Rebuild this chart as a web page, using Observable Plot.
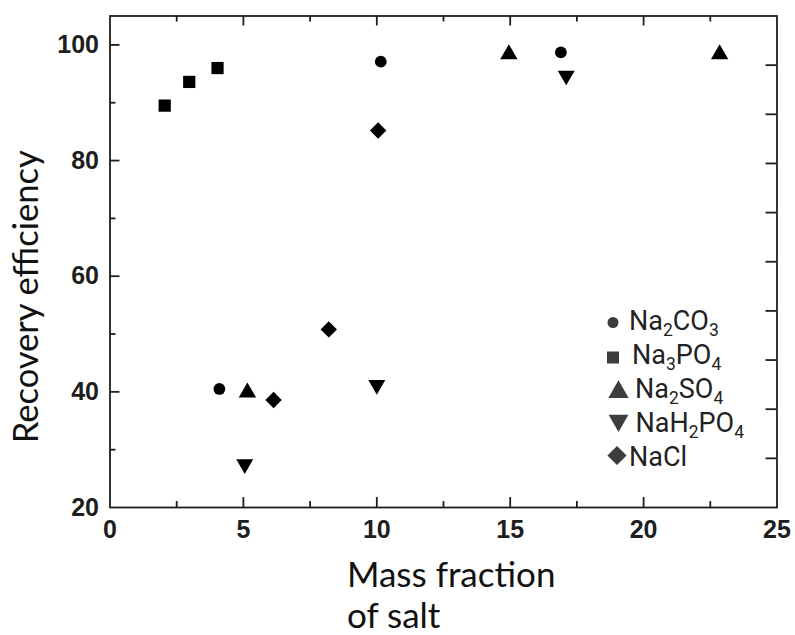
<!DOCTYPE html>
<html><head><meta charset="utf-8">
<script src="https://cdn.jsdelivr.net/npm/d3@7"></script>
<script src="https://cdn.jsdelivr.net/npm/@observablehq/plot@0.6"></script>
<style>body{margin:0;background:#fff} #chart{width:795px;height:635px}</style>
</head><body><div id="chart"></div>
<script>
// ---- data ----
const na2co3X = [4.1, 10.15, 16.9];
const na2co3Y = [40.5, 97.1, 98.7];
const na3po4X = [2.05, 2.97, 4.03];
const na3po4Y = [89.5, 93.6, 96.0];
const na2so4X = [5.15, 14.95, 22.85];
const na2so4Y = [39.9, 98.4, 98.4];
const nah2po4X = [5.05, 10.0, 17.1];
const nah2po4Y = [27.5, 41.2, 94.7];
const naclX = [6.13, 8.2, 10.05];
const naclY = [38.6, 50.8, 85.2];

const xTickLabels = [0, 5, 10, 15, 20, 25];
const xMajorTicks = [5, 10, 15, 20];
const xMinorTicks = [2.5, 7.5, 12.5, 17.5, 22.5];
const yTickLabels = [20, 40, 60, 80, 100];
const yMajorTicks = [40, 60, 80, 100];
const yMinorTicks = [30, 50, 70, 90];
const rightTicks = [28.5, 37, 45.5, 54, 62.5, 71, 79.5, 88, 96.5];

const xTitle = "Mass fraction\nof salt";
const yTitle = "Recovery efficiency";

const legendEntries = [
  [["Na",0],["2",1],["CO",0],["3",1]],
  [["Na",0],["3",1],["PO",0],["4",1]],
  [["Na",0],["2",1],["SO",0],["4",1]],
  [["NaH",0],["2",1],["PO",0],["4",1]],
  [["NaCl",0]]
];

// ---- symbols ----
const triangleDown = {
  draw(context, size) {
    const y = Math.sqrt(size / (Math.sqrt(3) * 3));
    context.moveTo(0, 2 * y);
    context.lineTo(Math.sqrt(3) * y, -y);
    context.lineTo(-Math.sqrt(3) * y, -y);
    context.closePath();
  }
};

const zip = (xs, ys) => xs.map((x, i) => ({x, y: ys[i]}));

const W = 795, H = 635, mL = 109.5, mR = 18.5, mT = 15.5, mB = 128;
const frameW = W - mL - mR, frameH = H - mT - mB;
const ink = "#1e1e1e";
const tickW = 1.8;

const plot = Plot.plot({
  width: W, height: H,
  marginLeft: mL, marginRight: mR, marginTop: mT, marginBottom: mB,
  x: {domain: [0, 25]},
  y: {domain: [20, 105]},
  style: {fontFamily: "'Liberation Sans', Arial, sans-serif", background: "#fff", color: ink},
  marks: [
    Plot.axisX({ticks: xTickLabels, tickSize: 0, tickPadding: 13, label: null,
      fontSize: 25, fontWeight: "bold", fill: ink}),
    Plot.axisY({ticks: yTickLabels, tickSize: 0, tickPadding: 11, label: null,
      fontSize: 25, fontWeight: "bold", fill: ink}),
    // inward ticks: bottom
    Plot.ruleX(xMajorTicks, {x: d => d, insetTop: frameH - 10, stroke: ink, strokeWidth: tickW}),
    Plot.ruleX(xMinorTicks, {x: d => d, insetTop: frameH - 6, stroke: ink, strokeWidth: tickW}),
    // top
    Plot.ruleX(xMajorTicks, {x: d => d, insetBottom: frameH - 10, stroke: ink, strokeWidth: tickW}),
    Plot.ruleX(xMinorTicks, {x: d => d, insetBottom: frameH - 6, stroke: ink, strokeWidth: tickW}),
    // left
    Plot.ruleY(yMajorTicks, {y: d => d, insetRight: frameW - 10, stroke: ink, strokeWidth: tickW}),
    Plot.ruleY(yMinorTicks, {y: d => d, insetRight: frameW - 6, stroke: ink, strokeWidth: tickW}),
    // right
    Plot.ruleY(rightTicks, {y: d => d, insetLeft: frameW - 11, stroke: ink, strokeWidth: tickW}),
    Plot.frame({stroke: ink, strokeWidth: 1.8}),
    // data
    Plot.dot(zip(na2co3X, na2co3Y), {x: "x", y: "y", symbol: "circle", r: 5.9, fill: "#000", stroke: null}),
    Plot.dot(zip(na3po4X, na3po4Y), {x: "x", y: "y", symbol: "square", r: 6.9, fill: "#000", stroke: null}),
    Plot.dot(zip(na2so4X, na2so4Y), {x: "x", y: "y", symbol: "triangle", r: 6.45, fill: "#000", stroke: null}),
    Plot.dot(zip(nah2po4X, nah2po4Y), {x: "x", y: "y", symbol: triangleDown, r: 6.3, fill: "#000", stroke: null}),
    Plot.dot(zip(naclX, naclY), {x: "x", y: "y", symbol: "diamond2", r: 7.4, fill: "#000", stroke: null}),
    // axis titles
    Plot.text([yTitle], {text: d => d, frameAnchor: "left", rotate: -90, textAnchor: "middle",
      lineAnchor: "middle", dx: -83, dy: 35, fontSize: 34.5, fontFamily: "Lato", fill: "#111"}),
    Plot.text([xTitle], {text: d => d, frameAnchor: "bottom-left", textAnchor: "start",
      lineAnchor: "top", lineHeight: 1.17, dx: 237, dy: 50, fontSize: 35, fontFamily: "Lato", fill: "#111"})
  ]
});
document.getElementById("chart").appendChild(plot);

// ---- in-plot legend ----
const svg = d3.select(plot);
const legendSymbols = [d3.symbolCircle, d3.symbolSquare, d3.symbolTriangle, triangleDown, d3.symbolDiamond2];
const legendSizes = [95, 144, 180, 170, 235];
const symX = [613, 613, 618.5, 618.5, 617];
const symDY = [-7, -6, -5.5, -11, -10];
const textX = [629, 632, 635, 635.5, 629];
const g = svg.append("g")
  .attr("font-family", "Roboto, sans-serif").attr("font-size", 27)
  .attr("fill", "#222").attr("text-anchor", "start");
legendEntries.forEach((parts, i) => {
  const base = 329.5 + i * 34;
  g.append("path")
    .attr("d", d3.symbol(legendSymbols[i], legendSizes[i])())
    .attr("transform", `translate(${symX[i]},${base + symDY[i]})`)
    .attr("fill", "#3d3d3d");
  const t = g.append("text").attr("x", textX[i]).attr("y", base);
  let shifted = false;
  parts.forEach(([s, sub]) => {
    const ts = t.append("tspan").text(s);
    if (sub) { ts.attr("font-size", 17.5); if (!shifted) { ts.attr("dy", 6); shifted = true; } }
    else if (shifted) { ts.attr("dy", -6); shifted = false; }
  });
});
</script>
</body></html>
